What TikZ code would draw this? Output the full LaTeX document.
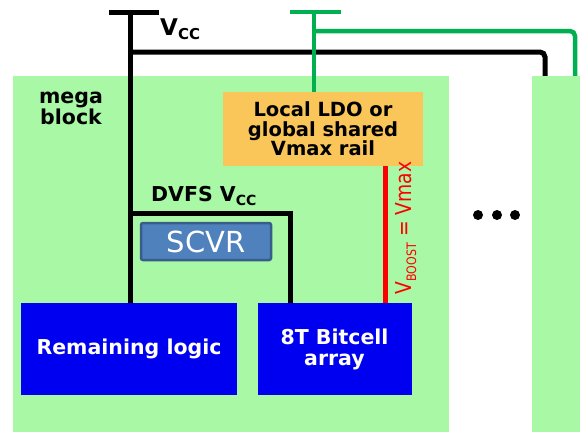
\documentclass[tikz,border=0pt]{standalone}
\usepackage{fontspec}
\usepackage{graphicx}
\setmainfont{DejaVu Sans}
\newfontfamily\condfont[FakeStretch=0.85]{DejaVu Sans}
\definecolor{mgreen}{RGB}{168,248,165}
\definecolor{gline}{RGB}{0,176,80}
\definecolor{ldoc}{RGB}{250,198,90}
\definecolor{blkc}{RGB}{0,0,240}
\definecolor{scvrf}{RGB}{79,129,189}
\definecolor{scvrd}{RGB}{56,93,138}
\tikzset{
  blockbg/.style={fill=mgreen, inner sep=0pt, draw=none},
  bwire/.style={line width=5pt, black},
  gwire/.style={line width=4.5pt, gline},
  rwire/.style={line width=5pt, red},
  ldobox/.style={fill=ldoc, inner sep=0pt, minimum width=200pt, minimum height=74pt, align=center,
    font=\bfseries\fontsize{19.5}{19.5}\selectfont},
  logicbox/.style={fill=blkc, inner sep=0pt, minimum height=92pt, align=center, text=white,
    font=\bfseries\fontsize{20.5}{21}\selectfont},
  scvrbox/.style={fill=scvrf, draw=scvrd, line width=2.5pt, rounded corners=2pt, inner sep=0pt,
    minimum width=130pt, minimum height=37pt, text=white, font=\fontsize{29}{29}\selectfont},
  lbl/.style={inner sep=0pt, align=center, font=\bfseries\fontsize{20.5}{19}\selectfont},
  dotc/.style={circle, fill=black, inner sep=0pt, minimum size=10pt},
}
\begin{document}
\begin{tikzpicture}[x=1pt,y=-1pt]
\useasboundingbox (0,0) rectangle (580,432);
% blocks
\node[blockbg, minimum width=436pt, minimum height=356pt] (mb) at (231,254) {};
\node[blockbg, minimum width=48pt, minimum height=356pt] (rbk) at (556,254) {};
% boxes
\node[ldobox] (ldo) at (323,129) {Local LDO or\\global shared\\Vmax rail};
\node[logicbox, minimum width=216pt] (rl) at (129,349) {Remaining logic};
\node[logicbox, minimum width=154pt] (bc) at (334.5,349) {8T Bitcell\\array};
% coordinates
\coordinate (vtop) at (130,12);
\coordinate (vtl) at (109,12);
\coordinate (vtr) at (159,12);
\coordinate (vbr) at (545,52);
\coordinate (dvr) at (290,213);
\coordinate (gtop) at (314,12);
\coordinate (gtl) at (290,12);
\coordinate (gtr) at (341,12);
\coordinate (gbr) at (575,31);
\coordinate (rx) at (385,0);
% black Vcc
\draw[bwire] (vtl) -- (vtr);
\draw[bwire] (vtop) -- (vtop |- rl.north);
\draw[bwire, rounded corners=5pt] (vtop |- vbr) -- (vbr) -- (vbr |- rbk.north);
\draw[bwire] (vtop |- dvr) -- (dvr) -- (dvr |- bc.north);
% green
\draw[gwire] (gtl) -- (gtr);
\draw[gwire] (gtop) -- (gtop |- ldo.north);
\draw[gwire, rounded corners=5pt] (gtop |- gbr) -- (gbr) -- (gbr |- rbk.north);
% red
\draw[rwire] (rx |- ldo.south) -- (rx |- bc.north);
% SCVR
\node[scvrbox] (scvr) at (206,241.5) {SCVR};
% labels
\node[lbl, anchor=west, font=\bfseries\fontsize{23}{23}\selectfont] (vcc) at (160,29) {V\raisebox{-0.3ex}{\fontsize{15}{15}\selectfont CC}};
\node[lbl, anchor=west] (dvfs) at (151,196) {DVFS V\raisebox{-0.3ex}{\fontsize{14}{14}\selectfont CC}};
\node[lbl] (mega) at (71,108) {mega\\block};
\node[rotate=90, text=red, inner sep=0pt, font=\condfont\fontsize{22}{22}\selectfont] (vb) at (406,228)
  {V\raisebox{-0.35ex}{\fontsize{13}{13}\selectfont BOOST} = Vmax};
% dots
\node[dotc] (d1) at (478,215) {};
\node[dotc] (d2) at (497,215) {};
\node[dotc] (d3) at (515,215) {};
\end{tikzpicture}
\end{document}
